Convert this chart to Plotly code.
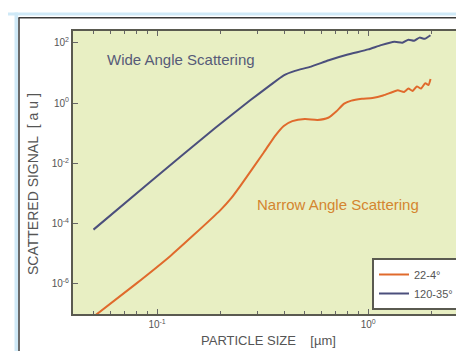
import plotly.graph_objects as go

# ---- data (particle size in µm, signal in a.u.) ----
wide_x = [0.05, 0.0927, 0.189, 0.277, 0.34, 0.398, 0.45, 0.536, 0.65, 0.80,
          1.0, 1.15, 1.33, 1.45, 1.55, 1.65, 1.75, 1.85, 1.97]
wide_y = [6.3e-5, 2.4e-3, 0.151, 1.26, 3.7, 8.3, 11.7, 16.2, 26.3, 40.7,
          60.3, 83.2, 107, 100, 126, 117, 148, 135, 178]

narrow_x = [0.05, 0.0794, 0.1153, 0.148, 0.1995, 0.225, 0.248, 0.320, 0.363,
            0.398, 0.437, 0.501, 0.575, 0.646, 0.705, 0.769, 0.832, 0.933,
            1.047, 1.175, 1.288, 1.380, 1.479, 1.549, 1.622, 1.698, 1.778,
            1.862, 1.928, 1.972]
narrow_y = [8.1e-8, 1.0e-6, 8.3e-6, 4.0e-5, 2.8e-4, 7.1e-4, 1.78e-3, 0.0229,
            0.0832, 0.174, 0.251, 0.295, 0.275, 0.324, 0.525, 0.955, 1.20,
            1.38, 1.48, 1.78, 2.24, 2.63, 2.34, 3.02, 2.51, 3.55, 3.02, 4.57,
            3.98, 6.31]

x_tickvals = [0.1, 1]
x_ticktext = ["10<sup>-1</sup>", "10<sup>0</sup>"]
x_minor = [0.04, 0.05, 0.06, 0.07, 0.08, 0.09, 0.2, 0.3, 0.4, 0.5, 0.6,
           0.7, 0.8, 0.9, 2, 3]
y_tickvals = [1e-6, 1e-4, 1e-2, 1, 1e2]
y_ticktext = ["10<sup>-6</sup>", "10<sup>-4</sup>", "10<sup>-2</sup>",
              "10<sup>0</sup>", "10<sup>2</sup>"]

ORANGE = "#e06a2c"
NAVY = "#4b4f7c"
FONT = "Liberation Sans, Arial, sans-serif"

# plot area in pixels
L, R, T, B = 65, 3, 23, 45
W, H = 464, 351
PW, PH = W - L - R, H - T - B


def px(xp):
    return (xp - L) / PW


def py(yp):
    return (H - B - yp) / PH


fig = go.Figure()
fig.add_trace(go.Scatter(x=narrow_x, y=narrow_y, mode="lines", name="22-4°",
                         line=dict(color=ORANGE, width=2, shape="spline",
                                   smoothing=0.5)))
fig.add_trace(go.Scatter(x=wide_x, y=wide_y, mode="lines", name="120-35°",
                         line=dict(color=NAVY, width=2, shape="spline",
                                   smoothing=0.5)))

fig.update_xaxes(type="log", range=[-1.398, 0.477], automargin=False,
                 tickvals=x_tickvals, ticktext=x_ticktext,
                 ticks="inside", ticklen=5, tickcolor="#666", tickwidth=1,
                 minor=dict(tickvals=x_minor, ticks="inside", ticklen=3,
                            tickcolor="#666", tickwidth=1),
                 showgrid=False, zeroline=False,
                 showline=True, linecolor="#5a5a50", linewidth=2, mirror="ticks",
                 tickfont=dict(family=FONT, size=10, color="#555"))
fig.update_yaxes(type="log", range=[-7, 2.39], automargin=False,
                 tickvals=y_tickvals, ticktext=y_ticktext,
                 ticks="inside", ticklen=5, tickcolor="#666", tickwidth=1,
                 showgrid=False, zeroline=False,
                 showline=True, linecolor="#5a5a50", linewidth=2, mirror="ticks",
                 tickfont=dict(family=FONT, size=10, color="#555"))

# axis titles
fig.add_annotation(x=px(260), y=py(332), xref="paper", yref="paper",
                   xanchor="center", yanchor="middle", showarrow=False,
                   text="PARTICLE SIZE&nbsp;&nbsp;&nbsp;&nbsp;[µm]",
                   font=dict(family=FONT, size=13, color="#555"))
fig.add_annotation(x=px(25), y=py(176), xref="paper", yref="paper",
                   xanchor="center", yanchor="middle", showarrow=False,
                   textangle=-90,
                   text="SCATTERED SIGNAL&nbsp;&nbsp;[&nbsp;a&nbsp;u&nbsp;]",
                   font=dict(family=FONT, size=14, color="#555"))

# in-plot labels
fig.add_annotation(x=px(173), y=py(51), xref="paper", yref="paper",
                   xanchor="center", yanchor="middle",
                   text="Wide Angle Scattering", showarrow=False,
                   font=dict(family=FONT, size=15, color="#565b78"))
fig.add_annotation(x=px(330), y=py(196), xref="paper", yref="paper",
                   xanchor="center", yanchor="middle",
                   text="Narrow Angle Scattering", showarrow=False,
                   font=dict(family=FONT, size=15, color="#d4852f"))

# page decoration: light blue band and dark frame lines
fig.add_shape(type="rect", xref="paper", yref="paper",
              x0=px(0), x1=px(W), y0=py(7.5), y1=py(4.5),
              fillcolor="#cfe9f7", line_width=0, layer="below")
fig.add_shape(type="rect", xref="paper", yref="paper",
              x0=px(6.5), x1=px(10), y0=py(H), y1=py(4.5),
              fillcolor="#cfe9f7", line_width=0, layer="below")
fig.add_shape(type="line", xref="paper", yref="paper",
              x0=px(10.5), x1=px(W), y0=py(9.7), y1=py(9.7),
              line=dict(color="#3a3a3a", width=1.5))
fig.add_shape(type="line", xref="paper", yref="paper",
              x0=px(11), x1=px(11), y0=py(H), y1=py(9.7),
              line=dict(color="#3a3a3a", width=1.5))

fig.update_layout(
    width=W, height=H,
    margin=dict(l=L, r=R, t=T, b=B),
    paper_bgcolor="white", plot_bgcolor="#e8efc3",
    showlegend=True,
    legend=dict(x=px(452), y=py(302), xanchor="right", yanchor="bottom",
                bgcolor="white", bordercolor="#5a5a50", borderwidth=2,
                font=dict(family=FONT, size=11, color="#555"),
                tracegroupgap=0, itemwidth=30),
)

fig.write_html("out.html")
